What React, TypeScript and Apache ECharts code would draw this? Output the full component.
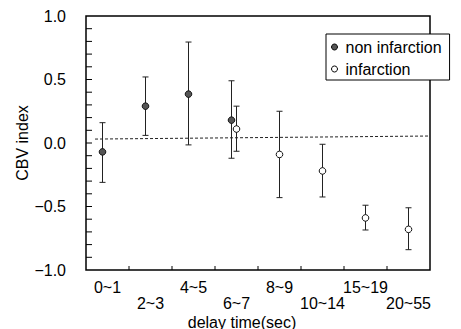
import React, { useEffect, useRef } from "react";
import * as echarts from "echarts";

const categories = ["0~1", "2~3", "4~5", "6~7", "8~9", "10~14", "15~19", "20~55"];
// [categoryIndex, mean, low, high]
const nonInfarction = [
  [0, -0.07, -0.31, 0.16],
  [1, 0.29, 0.06, 0.52],
  [2, 0.385, -0.015, 0.795],
  [3, 0.18, -0.12, 0.49],
];
const infarction = [
  [3, 0.11, -0.065, 0.29],
  [4, -0.09, -0.43, 0.25],
  [5, -0.22, -0.425, -0.01],
  [6, -0.59, -0.685, -0.49],
  [7, -0.68, -0.84, -0.51],
];
const referenceLine = [
  [0.21, 0.031],
  [8, 0.055],
];
const yTicks = { min: -1, max: 1, interval: 0.5 };
const yMinorTicks = [-0.9, -0.8, -0.7, -0.6, -0.5, -0.4, -0.3, -0.2, -0.1, 0, 0.1, 0.2, 0.3, 0.4, 0.5, 0.6, 0.7, 0.8, 0.9];
const xBoundaries = [1, 2, 3, 4, 5, 6, 7];

const FONT = "Liberation Sans, Arial, sans-serif";
const INK = "#000";

function makeRender(fill: string, dx: number) {
  return (params: any, api: any) => {
    const x = api.value(0);
    const pm = api.coord([x, api.value(1)]);
    const pl = api.coord([x, api.value(2)]);
    const ph = api.coord([x, api.value(3)]);
    const cx = pm[0] + dx;
    const cap = 3;
    const ls = { stroke: "#222", lineWidth: 1 };
    return {
      type: "group",
      children: [
        { type: "line", shape: { x1: cx, y1: ph[1], x2: cx, y2: pl[1] }, style: ls },
        { type: "line", shape: { x1: cx - cap, y1: ph[1], x2: cx + cap, y2: ph[1] }, style: ls },
        { type: "line", shape: { x1: cx - cap, y1: pl[1], x2: cx + cap, y2: pl[1] }, style: ls },
        {
          type: "circle",
          shape: { cx, cy: pm[1], r: 3.3 },
          style: { fill, stroke: "#111", lineWidth: 1 },
        },
      ],
    };
  };
}

export default function App() {
  const ref = useRef<HTMLDivElement>(null);
  useEffect(() => {
    const chart = echarts.init(ref.current!, null, { renderer: "svg" });
    chart.setOption({
      animation: false,
      backgroundColor: "#fff",
      grid: { left: 86, top: 16, right: 31, bottom: 59, show: false, outerBoundsMode: "none", containLabel: false },
      legend: {
        orient: "vertical",
        left: 326,
        top: 34,
        padding: [5, 8, 3, 5],
        itemGap: 6,
        itemWidth: 6,
        itemHeight: 6,
        borderColor: INK,
        borderWidth: 1,
        backgroundColor: "#fff",
        z: 10,
        textStyle: { fontFamily: FONT, fontSize: 16, color: INK, padding: [0, 0, 0, 3] },
        data: [
          { name: "non infarction", icon: "circle", itemStyle: { color: "#555", borderColor: INK, borderWidth: 1 } },
          { name: "infarction", icon: "circle", itemStyle: { color: "#fff", borderColor: INK, borderWidth: 1 } },
        ],
      },
      xAxis: [
        {
          type: "category",
          data: categories,
          axisLine: { show: false },
          axisTick: { show: false },
          axisLabel: {
            color: INK,
            fontSize: 16,
            fontFamily: FONT,
            margin: 9,
            lineHeight: 16,
            interval: 0,
            formatter: (v: string, i: number) => (i % 2 ? "\n" + v : v),
          },
          name: "delay time(sec)",
          nameLocation: "middle",
          nameGap: 44,
          nameMoveOverlap: false,
          nameTextStyle: { color: INK, fontSize: 16, lineHeight: 16, fontFamily: FONT, padding: [0, 32, 0, 0] },
        },
        { type: "value", min: 0, max: 8, show: false, position: "top" },
      ],
      yAxis: {
        type: "value",
        min: yTicks.min,
        max: yTicks.max,
        interval: yTicks.interval,
        splitLine: { show: false },
        axisLine: { show: false },
        axisTick: { show: false },
        axisLabel: {
          color: INK,
          fontSize: 16,
          fontFamily: FONT,
          margin: 20,
          formatter: (v: number) => v.toFixed(1).replace("-", "\u2212"),
        },
        name: "CBV index",
        nameLocation: "middle",
        nameGap: 56,
        nameMoveOverlap: false,
        nameTextStyle: { color: INK, fontSize: 16, fontFamily: FONT },
      },
      series: [
        {
          name: "frame",
          type: "custom",
          data: [[0, 0]],
          silent: true,
          z: 1,
          renderItem: (params: any) => {
            const c = params.coordSys;
            return {
              type: "rect",
              shape: { x: c.x, y: c.y, width: c.width, height: c.height },
              style: { fill: "none", stroke: INK, lineWidth: 1.5 },
            };
          },
        },
        {
          name: "yTicks",
          type: "custom",
          data: yMinorTicks.map((v) => [0, v]),
          silent: true,
          z: 1,
          renderItem: (params: any, api: any) => {
            const c = params.coordSys;
            const y = api.coord([0, api.value(1)])[1];
            return {
              type: "line",
              shape: { x1: c.x, y1: y, x2: c.x + 6, y2: y },
              style: { stroke: INK, lineWidth: 1 },
            };
          },
        },
        {
          name: "xTicks",
          type: "custom",
          data: xBoundaries.map((i) => [i, yTicks.min]),
          silent: true,
          z: 1,
          renderItem: (params: any, api: any) => {
            const c = params.coordSys;
            const bw = api.size([1, 0])[0];
            const x = api.coord([api.value(0), yTicks.min])[0] - bw / 2;
            const yb = c.y + c.height;
            return {
              type: "line",
              shape: { x1: x, y1: yb, x2: x, y2: yb - 4 },
              style: { stroke: INK, lineWidth: 1 },
            };
          },
        },
        {
          name: "reference",
          type: "line",
          xAxisIndex: 1,
          data: referenceLine,
          symbol: "none",
          lineStyle: { color: "#222", width: 1, type: [3, 2] },
          silent: true,
          z: 1,
        },
        {
          name: "non infarction",
          type: "custom",
          data: nonInfarction,
          renderItem: makeRender("#555", -5),
          encode: { x: 0, y: 1 },
          z: 3,
        },
        {
          name: "infarction",
          type: "custom",
          data: infarction,
          renderItem: makeRender("#fff", 0),
          encode: { x: 0, y: 1 },
          z: 4,
        },
      ],
    });
    return () => chart.dispose();
  }, []);
  return <div ref={ref} style={{ width: 461, height: 329, position: "absolute", left: 0, top: 0 }} />;
}
